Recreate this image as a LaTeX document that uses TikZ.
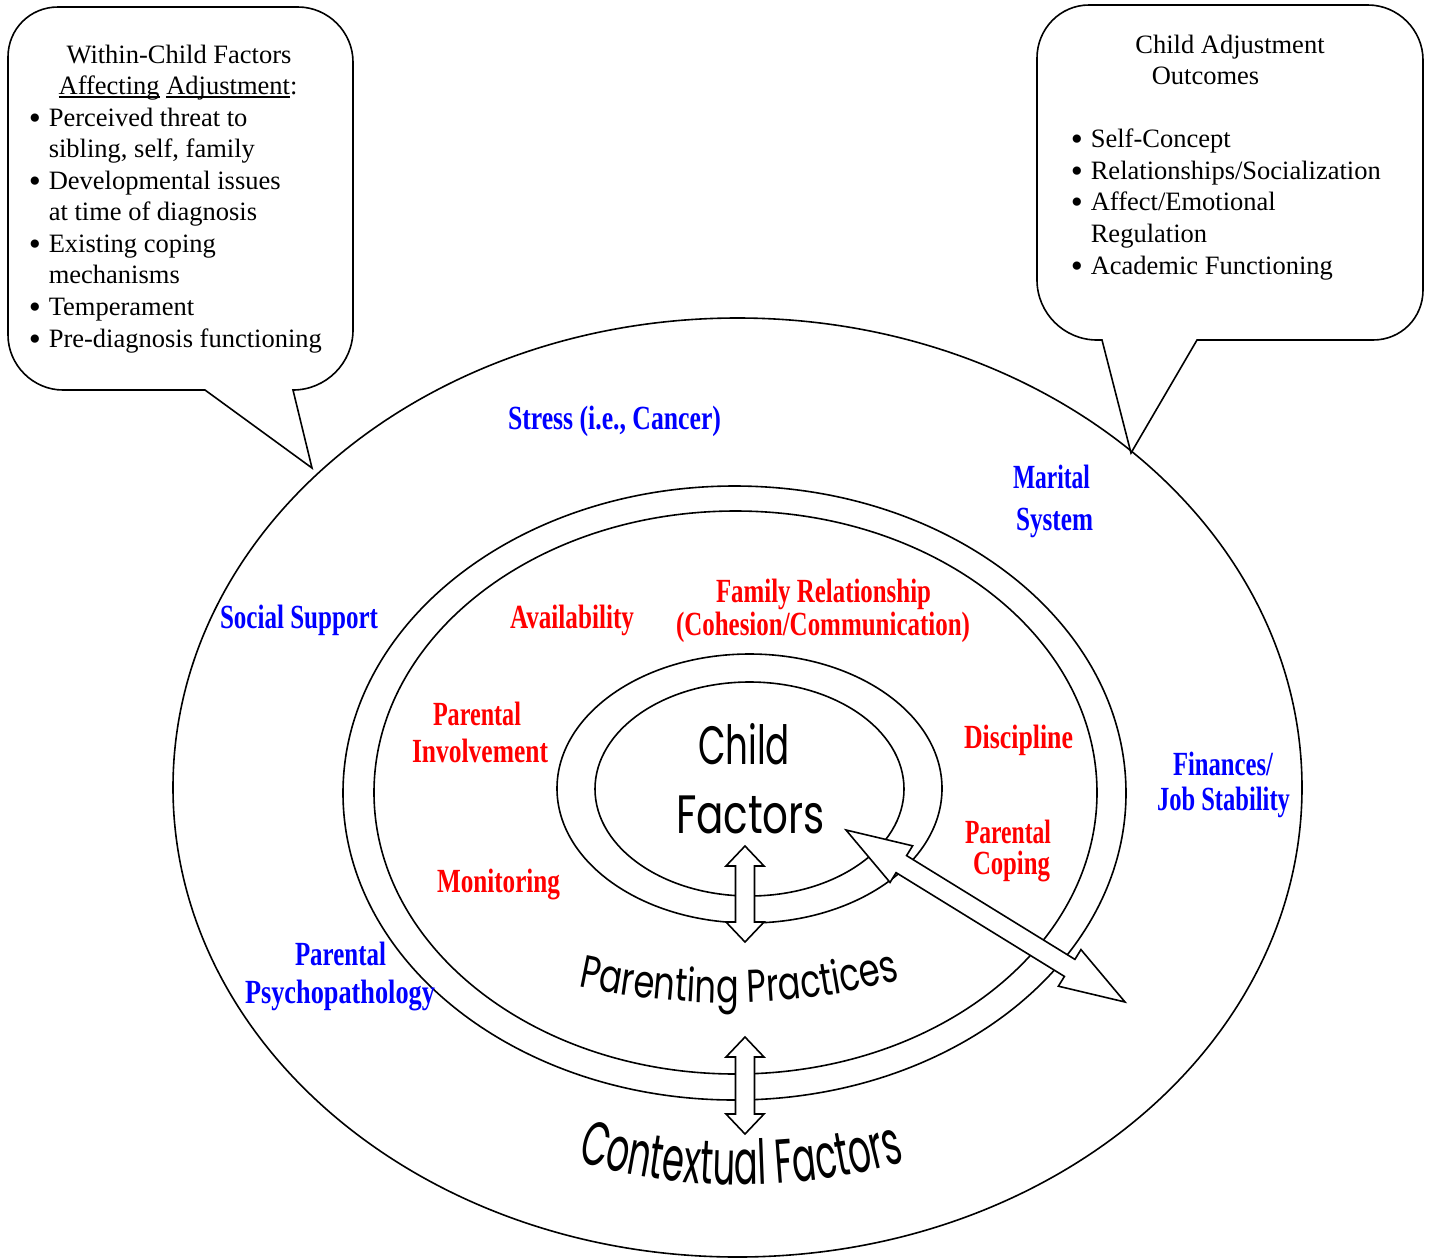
\documentclass[tikz,border=0pt]{standalone}
\usepackage{fontspec}
\usepackage{graphicx}
\setmainfont{Liberation Serif}
\newfontfamily\lblfont{Liberation Serif Bold}
\newfontfamily\cmc{Poppins}
\newfontfamily\cmcA[FakeStretch=0.73]{Poppins}
\newfontfamily\cmcB[FakeStretch=0.57]{Poppins}
\usetikzlibrary{calc,decorations.text,shapes.geometric}
\newcommand{\fitw}[2]{\resizebox{#1}{1.3\height}{#2}}
\newcommand{\fitc}[2]{\resizebox{#1}{\height}{#2}}
\newcommand{\bul}{\raisebox{-3.5pt}{\scalebox{1.3}{\textbullet}}}
\newcommand{\myul}[1]{\setbox0\hbox{#1}\rlap{\rule[-3.5pt]{\wd0}{1.2pt}}\box0\relax}
\newcommand{\dblarr}[5]{%
  \coordinate (#1h) at ($(#1)!#3!(#2)$);
  \coordinate (#2h) at ($(#2)!#3!(#1)$);
  \draw[arrowshape] (#1) -- ($(#1h)!#4!90:(#2)$) -- ($(#1h)!#5!90:(#2)$)
    -- ($(#2h)!#5!-90:(#1)$) -- ($(#2h)!#4!-90:(#1)$) -- (#2)
    -- ($(#2h)!#4!90:(#1)$) -- ($(#2h)!#5!90:(#1)$)
    -- ($(#1h)!#5!-90:(#2)$) -- ($(#1h)!#4!-90:(#2)$) -- cycle;}
\begin{document}
\begin{tikzpicture}[x=1pt,y=-1pt,line width=1.6pt,
  ring/.style={draw, ellipse, inner sep=0pt, line width=1.6pt},
  callout/.style={draw, line width=1.6pt, fill=white, line join=miter},
  arrowshape/.style={draw, fill=white, line width=1.6pt, line join=miter},
  ctitle/.style={anchor=base, inner sep=0pt, font=\fontsize{26.5}{31.5}\selectfont},
  ctxt/.style={anchor=base west, inner sep=0pt, font=\fontsize{26.5}{31.5}\selectfont},
  blbl/.style={anchor=base, inner sep=0pt, text=blue, font=\lblfont\fontsize{26}{30}\selectfont},
  rlbl/.style={anchor=base, inner sep=0pt, text=red, font=\lblfont\fontsize{26}{30}\selectfont},
  comic/.style={anchor=base, inner sep=0pt, font=\cmc\fontsize{54}{60}\selectfont}]
\useasboundingbox[fill=white] (0,0) rectangle (1430,1259);

% ellipses
\node[ring, minimum width=1129pt, minimum height=939pt] (ctx) at (737.5,787.5) {};
\node[ring, minimum width=783pt, minimum height=614pt] (ppout) at (734.5,793) {};
\node[ring, minimum width=723pt, minimum height=563pt] (ppin) at (735.5,792.5) {};
\node[ring, minimum width=385pt, minimum height=269pt] (chout) at (749.5,788.5) {};
\node[ring, minimum width=309pt, minimum height=214pt] (chin) at (749.5,789) {};

% callouts
\draw[callout] (205,390) -- (63,390) .. controls (33,390) and (8,365) .. (8,335)
  -- (8,57) .. controls (8,29) and (30,7) .. (58,7)
  -- (298,7) .. controls (328,7) and (353,32) .. (353,62)
  -- (353,330) .. controls (353,363) and (326,390) .. (293,390)
  -- (312,468) -- cycle;
\draw[callout] (1102,340) -- (1097,340) .. controls (1064,340) and (1037,313) .. (1037,280)
  -- (1037,58) .. controls (1037,29) and (1060,5) .. (1089,5)
  -- (1368,5) .. controls (1398,5) and (1423,30) .. (1423,60)
  -- (1423,290) .. controls (1423,318) and (1401,340) .. (1373,340)
  -- (1197,340) -- (1131,453) -- cycle;

% left callout text
\node[ctitle] (lt1) at (179,63) {Within-Child Factors};
\node[ctitle] (lt2) at (178,94) {\myul{Affecting} \myul{Adjustment}:};
\node[ctxt] (lb1) at (48,126) {Perceived threat to};
\node[ctxt] (lb2) at (48,157) {sibling, self, family};
\node[ctxt] (lb3) at (48,189) {Developmental issues};
\node[ctxt] (lb4) at (48,220) {at time of diagnosis};
\node[ctxt] (lb5) at (48,252) {Existing coping};
\node[ctxt] (lb6) at (48,283) {mechanisms};
\node[ctxt] (lb7) at (48,315) {Temperament};
\node[ctxt] (lb8) at (48,347) {Pre-diagnosis functioning};
\foreach \y [count=\i] in {126,189,252,315,347}{
  \node[ctxt] (lbul\i) at (28,\y) {\bul};
}

% right callout text
\node[ctitle] (rt1) at (1230,53) {Child Adjustment};
\node[ctxt] (rt2) at (1151,84) {Outcomes};
\node[ctxt] (rb1) at (1090,147) {Self-Concept};
\node[ctxt] (rb2) at (1090,179) {Relationships/Socialization};
\node[ctxt] (rb3) at (1090,210) {Affect/Emotional};
\node[ctxt] (rb4) at (1090,242) {Regulation};
\node[ctxt] (rb5) at (1090,274) {Academic Functioning};
\foreach \y [count=\i] in {147,179,210,274}{
  \node[ctxt] (rbul\i) at (1070,\y) {\bul};
}

% arrows
\coordinate (ua) at (745,846);
\coordinate (ub) at (745,942);
\dblarr{ua}{ub}{20pt}{19pt}{9.5pt}
\coordinate (va) at (745,1037);
\coordinate (vb) at (745,1134);
\dblarr{va}{vb}{20pt}{19pt}{9.5pt}
\coordinate (da) at (846,830);
\coordinate (db) at (1125,1002);
\dblarr{da}{db}{65pt}{21.5pt}{10pt}

% blue labels
\node[blbl] (stress) at (614.5,429) {\fitw{213pt}{Stress (i.e., Cancer)}};
\node[blbl] (mar1) at (1051.5,488) {\fitw{77pt}{Marital}};
\node[blbl] (mar2) at (1054.5,530) {\fitw{77pt}{System}};
\node[blbl] (soc) at (299,628) {\fitw{158pt}{Social Support}};
\node[blbl] (fin1) at (1223,775) {\fitw{100pt}{Finances/}};
\node[blbl] (fin2) at (1223.5,810) {\fitw{133pt}{Job Stability}};
\node[blbl] (psy1) at (340.5,965) {\fitw{91pt}{Parental}};
\node[blbl] (psy2) at (340,1003) {\fitw{190pt}{Psychopathology}};

% red labels
\node[rlbl] (avail) at (572,628) {\fitw{124pt}{Availability}};
\node[rlbl] (fam1) at (823.5,602) {\fitw{215pt}{Family Relationship}};
\node[rlbl] (fam2) at (823,635) {\fitw{294pt}{(Cohesion/Communication)}};
\node[rlbl] (inv1) at (477,725) {\fitw{88pt}{Parental}};
\node[rlbl] (inv2) at (480,762) {\fitw{136pt}{Involvement}};
\node[rlbl] (disc) at (1018.5,748) {\fitw{109pt}{Discipline}};
\node[rlbl] (cop1) at (1008,843) {\fitw{86pt}{Parental}};
\node[rlbl] (cop2) at (1011.5,874) {\fitw{77pt}{Coping}};
\node[rlbl] (mon) at (498.5,892) {\fitw{123pt}{Monitoring}};

% comic labels
\node[comic] (child) at (744,764) {\fitc{92pt}{Child}};
\node[comic] (factors) at (750.5,833) {\fitc{149pt}{Factors}};
\path[decorate, decoration={text along path, text align=center,
  text={|\cmcA\fontsize{46}{52}\selectfont|Parenting Practices}}]
  (570,985) .. controls (680,1010) and (800,1010) .. (908,977);
\path[decorate, decoration={text along path, text align=center,
  text={|\cmcB\fontsize{62}{70}\selectfont|Contextual Factors}}]
  (572,1160) .. controls (680,1193) and (800,1193) .. (910,1160);
\end{tikzpicture}
\end{document}
